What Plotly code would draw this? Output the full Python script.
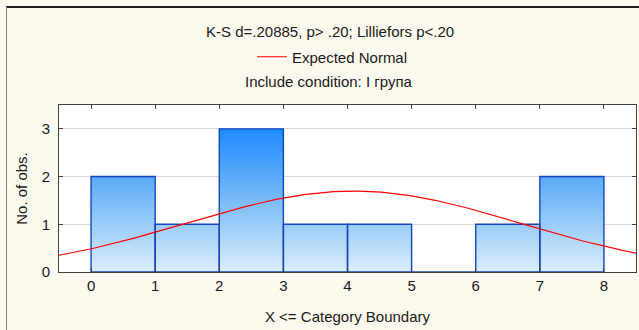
import numpy as np
import plotly.graph_objects as go

# Histogram: category boundaries and observation counts per bin
bin_edges = [0, 1, 2, 3, 4, 5, 6, 7, 8]
counts = [2, 1, 3, 1, 1, 0, 1, 2]
x_ticks = [0, 1, 2, 3, 4, 5, 6, 7, 8]
y_ticks = [0, 1, 2, 3]

title_line = "K-S d=.20885, p> .20; Lilliefors p<.20"
condition_line = "Include condition: I група"

# Values are counted as X <= upper category boundary
values = np.repeat(bin_edges[1:], counts)
n_obs = len(values)
mean = values.mean()
sd = values.std(ddof=1)
bin_width = bin_edges[1] - bin_edges[0]

# Expected normal curve scaled to counts
curve_x = np.linspace(-0.5, 8.5, 300)
curve_y = n_obs * bin_width * np.exp(-0.5 * ((curve_x - mean) / sd) ** 2) / (sd * np.sqrt(2 * np.pi))

# Build bar outlines as closed polygons separated by gaps
poly_x, poly_y = [], []
for left, right, c in zip(bin_edges[:-1], bin_edges[1:], counts):
    poly_x += [left, left, right, right, left, None]
    poly_y += [0, c, c, 0, 0, None]

FONT = "Liberation Sans, Arial, sans-serif"
TXT = "#1A1A1A"
BG = "#FDF9EE"
FS = 15

# Plot area placement (pixels)
W, H = 639, 330
ML, MR, MT, MB = 59, 3, 105, 58
PW, PH = W - ML - MR, H - MT - MB


def px(x):
    return (x - ML) / PW


def py(y):
    return (H - MB - y) / PH


fig = go.Figure()

fig.add_trace(go.Scatter(
    x=poly_x, y=poly_y,
    mode="lines",
    fill="toself",
    fillgradient=dict(
        type="vertical",
        start=0, stop=max(counts),
        colorscale=[[0, "#DDEEFE"], [1 / 3, "#9ACCF8"], [2 / 3, "#5AAAF8"], [1, "#1E8CFF"]],
    ),
    line=dict(color="#1446B8", width=1.4),
    showlegend=False,
    hoverinfo="skip",
))

fig.add_trace(go.Scatter(
    x=curve_x, y=curve_y,
    mode="lines",
    name="Expected Normal",
    line=dict(color="#FF0000", width=1.2),
    showlegend=True,
))

axis_common = dict(
    showline=True, linecolor="#404040", linewidth=1,
    mirror="ticks", ticks="inside", ticklen=4, tickcolor="#404040",
    zeroline=False,
    tickfont=dict(family=FONT, size=FS, color=TXT),
)

fig.update_xaxes(
    range=[-0.5, 8.5], tickvals=x_ticks, showgrid=False,
    title=dict(text="X <= Category Boundary", font=dict(family=FONT, size=FS, color=TXT), standoff=18),
    **axis_common,
)
fig.update_yaxes(
    range=[0, 3.5], tickvals=y_ticks, showgrid=True, gridcolor="#D9D9D9", gridwidth=1,
    title=dict(text="No. of obs.", font=dict(family=FONT, size=FS, color=TXT), standoff=10),
    ticklabelstandoff=5,
    **axis_common,
)

fig.update_layout(
    width=W, height=H,
    margin=dict(l=ML, r=MR, t=MT, b=MB, pad=0),
    paper_bgcolor=BG, plot_bgcolor="#FFFFFF",
    font=dict(family=FONT, size=FS, color=TXT),
    legend=dict(
        x=px(252), y=py(57), xanchor="left", yanchor="middle",
        bgcolor="rgba(0,0,0,0)", font=dict(family=FONT, size=FS, color=TXT),
        itemwidth=30,
    ),
    annotations=[
        dict(text=title_line, x=px(330), y=py(31), xref="paper", yref="paper",
             xanchor="center", yanchor="middle", showarrow=False,
             font=dict(family=FONT, size=FS, color=TXT)),
        dict(text=condition_line, x=px(329), y=py(82), xref="paper", yref="paper",
             xanchor="center", yanchor="middle", showarrow=False,
             font=dict(family=FONT, size=FS, color=TXT)),
    ],
    shapes=[
        dict(type="line", xref="paper", yref="paper", x0=px(6), x1=px(W), y0=py(7), y1=py(7),
             line=dict(color="#202020", width=2)),
        dict(type="line", xref="paper", yref="paper", x0=px(6.5), x1=px(6.5), y0=py(7), y1=py(H),
             line=dict(color="#808080", width=1)),
    ],
)

fig.write_html("out.html")
